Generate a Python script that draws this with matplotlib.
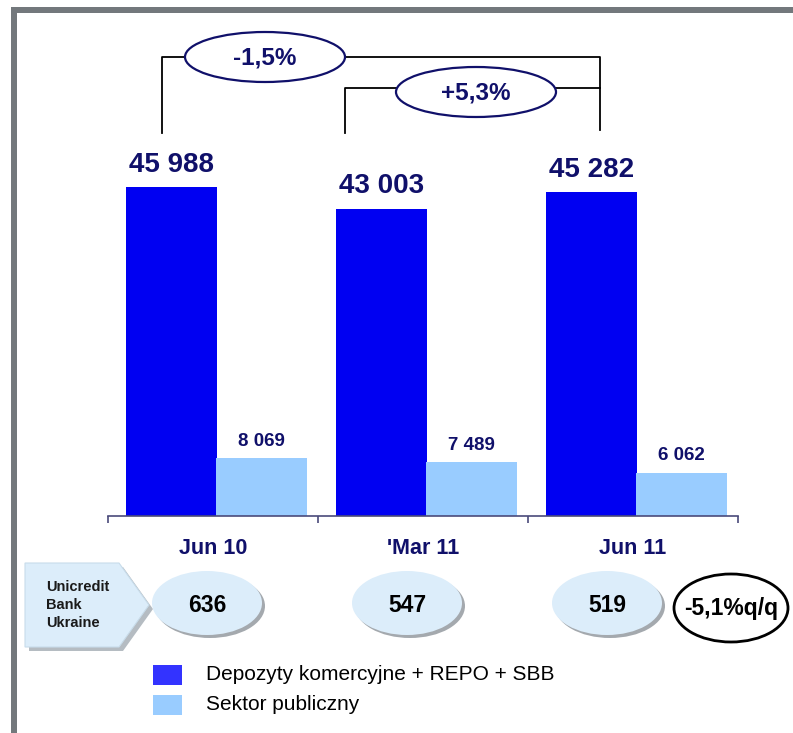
import matplotlib
matplotlib.use("Agg")
import matplotlib.pyplot as plt
from matplotlib.patches import Ellipse, Polygon, Rectangle

plt.rcParams["font.family"] = ["Liberation Sans", "DejaVu Sans"]

# data
categories = ["Jun 10", "'Mar 11", "Jun 11"]
deposits = [45988, 43003, 45282]
public_sector = [8069, 7489, 6062]
deposit_labels = ["45 988", "43 003", "45 282"]
public_labels = ["8 069", "7 489", "6 062"]
ukraine_values = ["636", "547", "519"]
ukraine_change = "-5,1%q/q"
bracket_labels = ["-1,5%", "+5,3%"]
legend_labels = ["Depozyty komercyjne + REPO + SBB", "Sektor publiczny"]

NAVY = "#10106a"
DARK = "#0000f2"
LIGHT = "#99ccff"
PALE = "#dcedfa"
W, H = 793, 733

fig = plt.figure(figsize=(W / 100, H / 100), dpi=100)

# main bar axes: baseline at y=516 px, x from 108 to 738 px
base_px, top_px = 516, 20
ax = fig.add_axes([108 / W, 1 - base_px / H, 630 / W, (base_px - top_px) / H])
px_per_unit = 0.00715
ax.set_ylim(0, (base_px - top_px) / px_per_unit)
ax.set_xlim(-0.5, 2.5)

xs = list(range(len(categories)))
bw = 0.433
dark_x = [x - 0.196 for x in xs]
light_x = [x + 0.232 for x in xs]
ax.bar(dark_x, deposits, width=bw, color=DARK, zorder=2)
ax.bar(light_x, public_sector, width=bw, color=LIGHT, zorder=2)

for x, v, lab in zip(dark_x, deposits, deposit_labels):
    ax.annotate(lab, (x, v), xytext=(0, 11), textcoords="offset points",
                ha="center", va="baseline", fontsize=20, fontweight="bold",
                color=NAVY)
for x, v, lab in zip(light_x, public_sector, public_labels):
    ax.annotate(lab, (x, v), xytext=(0, 9), textcoords="offset points",
                ha="center", va="baseline", fontsize=13.5, fontweight="bold",
                color=NAVY)

for s in ("top", "right", "left"):
    ax.spines[s].set_visible(False)
ax.spines["bottom"].set_color("#4a4a7a")
ax.spines["bottom"].set_linewidth(1.2)
ax.set_yticks([])
ax.set_xticks([-0.5, 0.5, 1.5, 2.5])
ax.set_xticklabels([])
ax.tick_params(axis="x", length=5, width=1.2, color="#4a4a7a", direction="out")
for x, lab in zip(xs, categories):
    ax.annotate(lab, (x, 0), xytext=(0, -27), textcoords="offset points",
                ha="center", va="baseline", fontsize=15.5, fontweight="bold",
                color=NAVY)

# overlay in pixel coordinates for decorations
ov = fig.add_axes([0, 0, 1, 1], zorder=5)
ov.set_xlim(0, W)
ov.set_ylim(H, 0)
ov.axis("off")
ov.patch.set_visible(False)

# frame
ov.add_patch(Rectangle((11, 7), W - 11, 6, color="#73787c", lw=0))
ov.add_patch(Rectangle((11, 7), 6, H - 7, color="#73787c", lw=0))

# brackets
lk = dict(color="black", lw=1.3, zorder=1)
ov.plot([162, 162, 600, 600], [133, 57, 57, 130], **lk)
ov.plot([345, 345, 600], [133, 88, 88], **lk)
for (cx, cy), lab in zip([(265, 57), (476, 92)], bracket_labels):
    ov.add_patch(Ellipse((cx, cy), 160, 50, facecolor="white",
                         edgecolor=NAVY, lw=1.6, zorder=2))
    ov.text(cx, cy + 1, lab, ha="center", va="center", fontsize=17.5,
            fontweight="bold", color=NAVY, zorder=3)

# Unicredit Bank Ukraine pentagon
pts = [(25, 563), (119, 563), (149, 605), (119, 647), (25, 647)]
shadow = [(x + 4, y + 4) for x, y in pts]
ov.add_patch(Polygon(shadow, closed=True, facecolor="#b5bcc2", lw=0, zorder=1))
ov.add_patch(Polygon(pts, closed=True, facecolor=PALE, edgecolor="#c8dcea",
                     lw=0.8, zorder=2))
ov.text(46, 605, "Unicredit\nBank\nUkraine", ha="left", va="center",
        fontsize=10.5, fontweight="bold", color="#1a1a1a", linespacing=1.35,
        zorder=3)

for cx, lab in zip([207, 407, 607], ukraine_values):
    ov.add_patch(Ellipse((cx + 3, 606), 110, 64, facecolor="#a4a9ae", lw=0,
                         zorder=3))
    ov.add_patch(Ellipse((cx, 603), 110, 64, facecolor=PALE, lw=0, zorder=4))
    ov.text(cx, 605, lab, ha="center", va="center", fontsize=16.5,
            fontweight="bold", color="black", zorder=5)

ov.add_patch(Ellipse((731, 608), 114, 68, facecolor="white", edgecolor="black",
                     lw=2, zorder=4))
ov.text(731, 609, ukraine_change, ha="center", va="center", fontsize=16.5,
        fontweight="bold", color="black", zorder=5)

# legend
for (y0, col), lab in zip([(665, "#3333ff"), (695, LIGHT)], legend_labels):
    ov.add_patch(Rectangle((153, y0), 29, 20, color=col, lw=0))
    ov.text(206, y0 + 9, lab, ha="left", va="center", fontsize=15,
            color="black")

fig.savefig("out.png", dpi=100)
